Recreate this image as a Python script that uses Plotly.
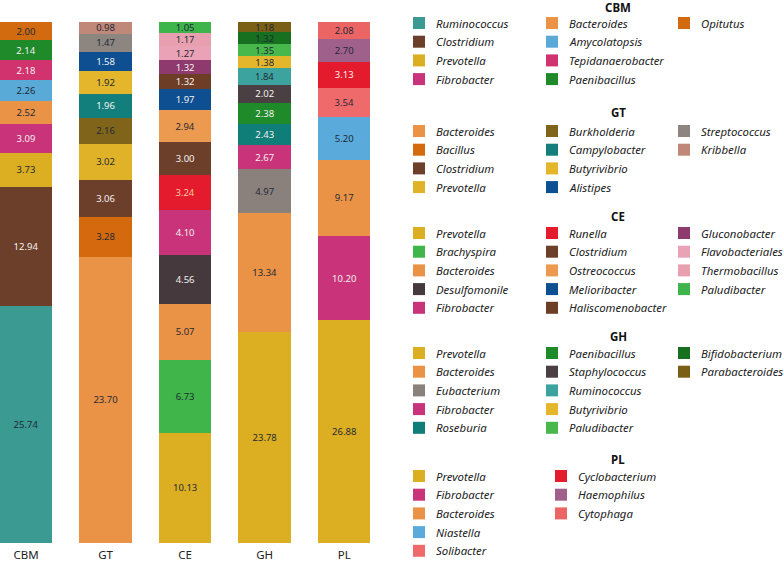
import plotly.graph_objects as go

samples = ["CBM", "GT", "CE", "GH", "PL"]

# taxa per sample, bottom to top of each bar
cbm_taxa = ["Ruminococcus", "Clostridium", "Prevotella", "Fibrobacter", "Bacteroides",
            "Amycolatopsis", "Tepidanaerobacter", "Paenibacillus", "Opitutus"]
cbm_values = [25.74, 12.94, 3.73, 3.09, 2.52, 2.26, 2.18, 2.14, 2.00]
cbm_colors = ["#3b9a92", "#6c3f2b", "#dcae22", "#c8337a", "#ea9346",
              "#5aaad8", "#d1336f", "#1f8a2a", "#d26a10"]

gt_taxa = ["Bacteroides", "Bacillus", "Clostridium", "Prevotella", "Burkholderia",
           "Campylobacter", "Butyrivibrio", "Alistipes", "Streptococcus", "Kribbella"]
gt_values = [23.70, 3.28, 3.06, 3.02, 2.16, 1.96, 1.92, 1.58, 1.47, 0.98]
gt_colors = ["#ea9346", "#d4690e", "#6c3f2b", "#dfb228", "#7f6419",
             "#137f7c", "#e3b62c", "#0d4f91", "#8c8580", "#c08878"]

ce_taxa = ["Prevotella", "Brachyspira", "Bacteroides", "Desulfomonile", "Fibrobacter",
           "Runella", "Clostridium", "Ostreococcus", "Melioribacter", "Haliscomenobacter",
           "Gluconobacter", "Flavobacteriales", "Thermobacillus", "Paludibacter"]
ce_values = [10.13, 6.73, 5.07, 4.56, 4.10, 3.24, 3.00, 2.94, 1.97, 1.32, 1.32, 1.27, 1.17, 1.05]
ce_colors = ["#dcae22", "#3fb54a", "#ea9346", "#45393d", "#c8337a",
             "#e41b2c", "#6c3f2b", "#eb9a50", "#0d4f91", "#6e3d26",
             "#8e3a6e", "#eaa3b6", "#e8a0b0", "#3db54a"]

gh_taxa = ["Prevotella", "Bacteroides", "Eubacterium", "Fibrobacter", "Roseburia",
           "Paenibacillus", "Staphylococcus", "Ruminococcus", "Butyrivibrio", "Paludibacter",
           "Bifidobacterium", "Parabacteroides"]
gh_values = [23.78, 13.34, 4.97, 2.67, 2.43, 2.38, 2.02, 1.84, 1.38, 1.35, 1.32, 1.18]
gh_colors = ["#dcae22", "#ea9346", "#8a817d", "#c8337a", "#0f7d78",
             "#1e8a2a", "#4a3f43", "#3ca39e", "#e3b62c", "#48b84c",
             "#16701f", "#7a5f16"]

pl_taxa = ["Prevotella", "Fibrobacter", "Bacteroides", "Niastella", "Solibacter",
           "Cyclobacterium", "Haemophilus", "Cytophaga"]
pl_values = [26.88, 10.20, 9.17, 5.20, 3.54, 3.13, 2.70, 2.08]
pl_colors = ["#dcae22", "#c8337a", "#ea9346", "#5aaadb", "#ef6b6b",
             "#e31b2c", "#a0608c", "#ec6565"]

DARK = "#1f2a36"
LIGHT = "#f4f0ee"
cbm_text = [DARK, LIGHT, DARK, LIGHT, DARK, DARK, LIGHT, LIGHT, DARK]
gt_text = [DARK, DARK, LIGHT, DARK, DARK, LIGHT, DARK, LIGHT, DARK, DARK]
ce_text = [DARK, DARK, DARK, LIGHT, LIGHT, "#f7c9a0", LIGHT, DARK, LIGHT, LIGHT, LIGHT, DARK, DARK, DARK]
gh_text = [DARK, DARK, DARK, LIGHT, LIGHT, LIGHT, LIGHT, DARK, DARK, DARK, DARK, DARK]
pl_text = [DARK, LIGHT, DARK, DARK, DARK, LIGHT, DARK, DARK]

groups = [
    (samples[0], cbm_taxa, cbm_values, cbm_colors, cbm_text),
    (samples[1], gt_taxa, gt_values, gt_colors, gt_text),
    (samples[2], ce_taxa, ce_values, ce_colors, ce_text),
    (samples[3], gh_taxa, gh_values, gh_colors, gh_text),
    (samples[4], pl_taxa, pl_values, pl_colors, pl_text),
]

FONT = "Noto Sans"
fig = go.Figure()
for sample, taxa, vals, cols, tcols in groups:
    for name, v, c, tc in zip(taxa, vals, cols, tcols):
        fig.add_trace(go.Bar(
            x=[sample], y=[v], name=name, marker_color=c, marker_line_width=0,
            width=0.66, text=[v], texttemplate="%{text:.2f}", textposition="inside",
            insidetextanchor="middle", textangle=0,
            textfont=dict(color=tc, size=9.5, family=FONT),
            showlegend=False, hovertemplate=sample + " " + name + ": %{text:.2f}<extra></extra>",
        ))

# manual grouped legend (layout only)
L, PW, T, PH = 0, 380, 22, 521
def px(x):
    return (x - L) / PW
def py(y):
    return (T + PH - y) / PH

legend_layout = {
    # title_y, first_row_y, nrows, swatch x per column
    "CBM": (7, 23, 4, [419, 552, 684]),
    "GT": (113, 131, 4, [419, 552, 684]),
    "CE": (216, 233, 5, [419, 552, 684]),
    "GH": (336, 353, 5, [419, 552, 684]),
    "PL": (459, 476, 5, [419, 561]),
}
ROW = 18.7
SW = 12
shapes = []
annotations = []
for sample, taxa, vals, cols, tcols in groups:
    ty, ry, nrows, colx = legend_layout[sample]
    annotations.append(dict(x=px(618), y=py(ty), xref="paper", yref="paper", text="<b>%s</b>" % sample,
                            showarrow=False, xanchor="center", yanchor="middle",
                            font=dict(family=FONT, size=11.5, color="#111")))
    for i, (name, c) in enumerate(zip(taxa, cols)):
        ci, ri = divmod(i, nrows)
        sx = colx[ci]
        sy = ry + ri * ROW
        shapes.append(dict(type="rect", xref="paper", yref="paper",
                           x0=px(sx - SW / 2), x1=px(sx + SW / 2),
                           y0=py(sy - SW / 2), y1=py(sy + SW / 2),
                           fillcolor=c, line=dict(width=0)))
        annotations.append(dict(x=px(sx + 15), y=py(sy), xref="paper", yref="paper",
                                text="<i>%s</i>" % name, showarrow=False,
                                xanchor="left", yanchor="middle",
                                font=dict(family=FONT, size=11.4, color="#222")))

fig.update_layout(
    barmode="stack", barnorm="percent",
    width=784, height=561,
    margin=dict(l=L, r=784 - PW - L, t=T, b=561 - T - PH),
    paper_bgcolor="white", plot_bgcolor="white",
    shapes=shapes, annotations=annotations,
    uniformtext=dict(minsize=9.5, mode="show"),
    xaxis=dict(type="category", categoryorder="array", categoryarray=samples,
               range=[-0.327, 4.45], showgrid=False, showline=False, zeroline=False,
               ticks="", ticklabelstandoff=3,
               tickfont=dict(family=FONT, size=11.5, color="#222"), automargin=False),
    yaxis=dict(visible=False, range=[0, 100], fixedrange=True),
    font=dict(family=FONT),
)

fig.write_html("out.html", config={"displayModeBar": False},
               post_script="document.body.style.margin='0';")
